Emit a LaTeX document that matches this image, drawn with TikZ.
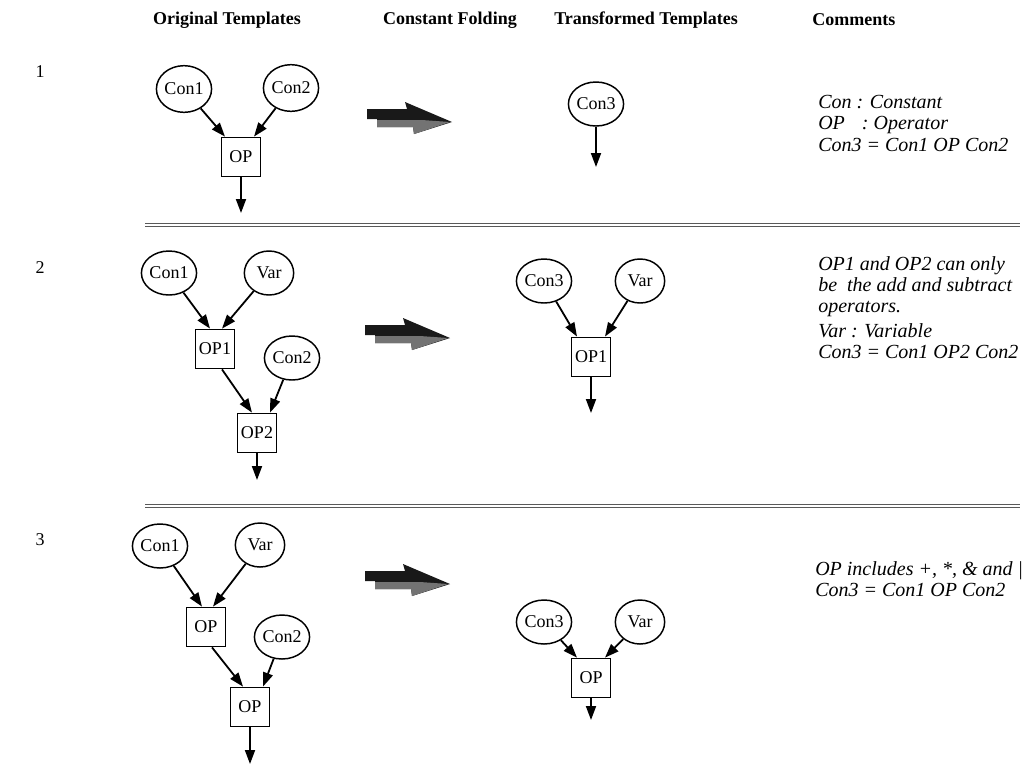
\documentclass[tikz,border=0pt]{standalone}
\usepackage{fontspec}
\setmainfont{Liberation Serif}
\usetikzlibrary{shapes.geometric,arrows.meta,calc}

\tikzset{
  tplcirc/.style={ellipse, draw, line width=1.1pt, minimum width=37pt,
    minimum height=33pt, inner sep=0pt, font=\fontsize{13.5}{15}\selectfont},
  tplbox/.style={rectangle, draw, line width=1.1pt, minimum width=29.5pt,
    minimum height=29.5pt, inner sep=0pt, font=\fontsize{13.5}{15}\selectfont},
  flow/.style={line width=1.35pt, -{Triangle[length=10.5pt,width=7.5pt]}},
  hdr/.style={font=\bfseries\fontsize{13.5}{16}\selectfont},
  rownum/.style={font=\fontsize{13.5}{16}\selectfont},
  note/.style={font=\itshape\fontsize{15}{16}\selectfont, align=left,
    anchor=north west, inner sep=0pt},
  sep/.style={draw=black!65, line width=0.5pt, double, double distance=1.6pt},
  foldarrow/.pic={
    \fill[black!90] (0,-9) -- (40,-9) -- (38,-16) -- (85,4) -- (47,16)
      -- (46,9) -- (10,9) -- (10,1) -- (0,1) -- cycle;
    \fill[black!55] (10,2) -- (55,2) -- (83,4) -- (47,16) -- (46,9)
      -- (10,9) -- cycle;
  }
}

\begin{document}
\begin{tikzpicture}[x=0.75pt, y=-0.75pt]
\useasboundingbox (0,0) rectangle (1034,765);

% column headings
\node[hdr] (h1) at (227,20) {Original Templates};
\node[hdr] (h2) at (450,20) {Constant Folding};
\node[hdr] (h3) at (646,20) {Transformed Templates};
\node[hdr, anchor=west, inner sep=0pt] (h4) at (812,20) {Comments};

% row numbers
\node[rownum] (n1) at (40,72) {1};
\node[rownum] (n2) at (40,268) {2};
\node[rownum] (n3) at (40,540) {3};

% ---------- template 1 ----------
\node[tplcirc, minimum height=35pt] (a1) at (184,89) {Con1};
\node[tplcirc, minimum height=35pt] (a2) at (291,88) {Con2};
\node[tplbox] (aop) at (241,157) {OP};
\coordinate (aout) at (241,213);
\draw[flow] (a1) -- ($(aop.north)+(-16,0)$);
\draw[flow] (a2) -- ($(aop.north)+(13,0)$);
\draw[flow] (aop.south) -- (aout);

\pic at (367,118) {foldarrow};

\node[tplcirc] (at) at (596,104) {Con3};
\coordinate (atout) at (596,167);
\draw[flow] (at) -- (atout);

\node[note] (c1) at (818,95) {Con : Constant\\
  OP\hspace{0.85em}: Operator\\
  Con3 = Con1 OP Con2};

\draw[sep] (145,225) -- (1020,225);

% ---------- template 2 ----------
\node[tplcirc] (b1) at (169,273) {Con1};
\node[tplcirc] (bv) at (269,273) {Var};
\node[tplbox] (bop1) at (215,349) {OP1};
\node[tplcirc] (b2) at (292,358) {Con2};
\node[tplbox] (bop2) at (257,433) {OP2};
\coordinate (bout) at (257,480);
\draw[flow] (b1) -- ($(bop1.north)+(-5,0)$);
\draw[flow] (bv) -- ($(bop1.north)+(7,0)$);
\draw[flow] ($(bop1.south)+(7,0)$) -- ($(bop2.north)+(-5,0)$);
\draw[flow] (b2) -- ($(bop2.north)+(13,0)$);
\draw[flow] (bop2.south) -- (bout);

\pic at (365,334) {foldarrow};

\node[tplcirc] (bt) at (544,281) {Con3};
\node[tplcirc] (btv) at (640,281) {Var};
\node[tplbox] (btop) at (591,357) {OP1};
\coordinate (btout) at (591,413);
\draw[flow] (bt) -- ($(btop.north)+(-14,0)$);
\draw[flow] (btv) -- ($(btop.north)+(14,0)$);
\draw[flow] (btop.south) -- (btout);

\node[note] (c2) at (818,256) {OP1 and OP2 can only\\
  be\ \ the add and subtract\\
  operators.\\[2.5pt]
  Var : Variable\\
  Con3 = Con1 OP2 Con2};

\draw[sep] (145,506) -- (1020,506);

% ---------- template 3 ----------
\node[tplcirc] (d1) at (160,546) {Con1};
\node[tplcirc] (dv) at (260,545) {Var};
\node[tplbox] (dop1) at (206,627) {OP};
\node[tplcirc] (d2) at (282,637) {Con2};
\node[tplbox] (dop2) at (250,707) {OP};
\coordinate (dout) at (250,764);
\draw[flow] (d1) -- ($(dop1.north)+(-4,0)$);
\draw[flow] (dv) -- ($(dop1.north)+(7,0)$);
\draw[flow] ($(dop1.south)+(6,0)$) -- ($(dop2.north)+(-7,0)$);
\draw[flow] (d2) -- ($(dop2.north)+(13,0)$);
\draw[flow] (dop2.south) -- (dout);

\pic at (365,580) {foldarrow};

\node[tplcirc] (dt) at (544,622) {Con3};
\node[tplcirc] (dtv) at (640,622) {Var};
\node[tplbox] (dtop) at (591,678) {OP};
\coordinate (dtout) at (591,720);
\draw[flow] (dt) -- ($(dtop.north)+(-14,0)$);
\draw[flow] (dtv) -- ($(dtop.north)+(14,0)$);
\draw[flow] (dtop.south) -- (dtout);

\node[note] (c3) at (815,561) {OP includes +, *, \& and |\\
  Con3 = Con1 OP Con2};
\end{tikzpicture}
\end{document}
